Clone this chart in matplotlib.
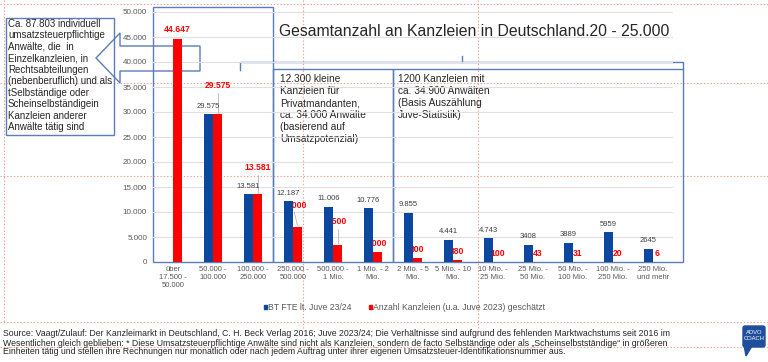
import numpy as np
import matplotlib
matplotlib.use("Agg")
import matplotlib.pyplot as plt
from matplotlib.patches import Rectangle, Polygon, FancyBboxPatch

plt.rcParams['font.family'] = ['Liberation Sans', 'DejaVu Sans']

# ---------------- data ----------------
categories = ["über\n17.500 -\n50.000", "50.000 -\n100.000", "100.000 -\n250.000",
              "250.000 -\n500.000", "500.000 -\n1 Mio.", "1 Mio. - 2\nMio.",
              "2 Mio. - 5\nMio.", "5 Mio. - 10\nMio.", "10 Mio. -\n25 Mio.",
              "25 Mio. -\n50 Mio.", "50 Mio. -\n100 Mio.", "100 Mio. -\n250 Mio.",
              "250 Mio.\nund mehr"]
bt_fte = [0, 29575, 13581, 12187, 11006, 10776, 9855, 4441, 4743, 3408, 3889, 5959, 2645]
bt_fte_labels = ["", "29.575", "13.581", "12.187", "11.006", "10.776", "9.855",
                 "4.441", "4.743", "3408", "3889", "5959", "2645"]
kanzleien = [44647, 29575, 13581, 7000, 3500, 2000, 800, 380, 100, 43, 31, 20, 6]
kanzleien_labels = ["44.647", "29.575", "13.581", "7000", "3500", "2000", "800",
                    "380", "100", "43", "31", "20", "6"]
yticks = [0, 5000, 10000, 15000, 20000, 25000, 30000, 35000, 40000, 45000, 50000]
ytick_labels = ["0", "5.000", "10.000", "15.000", "20.000", "25.000", "30.000",
                "35.000", "40.000", "45.000", "50.000"]
legend_labels = ["BT FTE lt. Juve 23/24", "Anzahl Kanzleien (u.a. Juve 2023) geschätzt"]
title = "Gesamtanzahl an Kanzleien in Deutschland.20 - 25.000"
left_box_lines = ["Ca. 87.803 individuell", "umsatzsteuerpflichtige", "Anwälte, die  in",
                  "Einzelkanzleien, in", "Rechtsabteilungen", "(nebenberuflich) und als",
                  "tSelbständige oder", "Scheinselbständigein", "Kanzleien anderer",
                  "Anwälte tätig sind"]
box2_lines = ["12.300 kleine", "Kanzleien für", "Privatmandanten,", "ca. 34.000 Anwälte",
              "(basierend auf", "Umsatzpotenzial)"]
box3_lines = ["1200 Kanzleien mit", "ca. 34.900 Anwälten", "(Basis Auszählung",
              "Juve-Statistik)"]
footer_lines = [
    "Source: Vaagt/Zulauf: Der Kanzleimarkt in Deutschland, C. H. Beck Verlag 2016; Juve 2023/24; Die Verhältnisse sind aufgrund des fehlenden Marktwachstums seit 2016 im",
    "Wesentlichen gleich geblieben: * Diese Umsatzsteuerpflichtige Anwälte sind nicht als Kanzleien, sondern de facto Selbständige oder als \u201eScheinselbstständige\u201c in größeren",
    "Einheiten tätig und stellen ihre Rechnungen nur monatlich oder nach jedem Auftrag unter ihrer eigenen Umsatzsteuer-Identifikationsnummer aus.",
]

# label layout (centre heights of red labels, data units)
red_label_y = [46600, 35200, 18800, 11400, 8000, 3600, 2600, 2000, 1800, 1800, 1800, 1800, 1800]

# ---------------- styles ----------------
W, H = 768, 362
BLUE = "#0B479E"
RED = "#FF0000"
BOXC = "#5B7DB8"
GUIDE = "#E9A08C"
TXT = "#262626"
TICK = "#595959"

fig = plt.figure(figsize=(W / 100, H / 100), dpi=100)

# overlay axes in pixel coordinates
ov = fig.add_axes([0, 0, 1, 1])
ov.set_xlim(0, W)
ov.set_ylim(H, 0)
ov.axis("off")
ov.set_zorder(0)

# main chart axes
x0, x1, ytop, ybot = 153, 673, 12, 262
ax = fig.add_axes([x0 / W, 1 - ybot / H, (x1 - x0) / W, (ybot - ytop) / H])
ax.set_zorder(1)
ax.patch.set_alpha(0)

n = len(categories)
x = np.arange(n)
bw = 0.225
ax.bar(x - bw / 2, bt_fte, width=bw, color=BLUE, zorder=3)
ax.bar(x + bw / 2, kanzleien, width=bw, color=RED, zorder=3)
ax.set_xlim(-0.5, n - 0.5)
ax.set_ylim(0, 50000)
ax.set_yticks(yticks)
ax.set_yticklabels(ytick_labels)
ax.set_xticks(x)
ax.set_xticklabels(categories, linespacing=1.2)
ax.tick_params(axis="y", length=0, pad=4.3, labelsize=5.8, labelcolor=TICK)
ax.tick_params(axis="x", length=0, pad=3.0, labelsize=5.5, labelcolor=TICK)
for s in ax.spines.values():
    s.set_visible(False)
ax.grid(axis="y", color="#E0E0E0", linewidth=0.8, zorder=0)
ax.set_axisbelow(True)

# blue data labels
for i in range(n):
    if bt_fte_labels[i]:
        ax.annotate(bt_fte_labels[i], (x[i] - bw / 2, bt_fte[i]), xytext=(0, 5.8),
                    textcoords="offset points", ha="center", va="center",
                    fontsize=5.5, color="#404040", zorder=4)

# red data labels (drawn below bars, so bars partially cover some of them)
for i in range(n):
    xr = x[i] + bw / 2
    ax.text(xr, red_label_y[i], kanzleien_labels[i], ha="center", va="center",
            fontsize=6.2, fontweight="bold", color=RED, zorder=2)
# leader lines
for i in [1, 2, 3, 4]:
    xr = x[i] + bw / 2
    top = red_label_y[i] - 1400
    ax.plot([xr - 0.08 if i == 3 else xr, xr], [top, kanzleien[i] + 300],
            color="#A6A6A6", lw=0.5, zorder=2)

# ---------------- guides (dotted) ----------------
gkw = dict(color=GUIDE, lw=0.8, linestyle=(0, (1.2, 1.8)), zorder=0)
for yy in [4, 83, 176, 322, 347]:
    ov.plot([0, W], [yy, yy], **gkw)
for xx, ya, yb in [(4, 0, 322), (303, 0, 330), (478, 0, 330)]:
    ov.plot([xx, xx], [ya, yb], **gkw)

# ---------------- boxes ----------------
bkw = dict(fill=False, edgecolor=BOXC, lw=1.0, zorder=1)
ov.add_patch(Rectangle((6, 18), 108, 117, **bkw))            # left text box
ov.add_patch(Rectangle((153, 7), 120, 255, **bkw))           # box around first 3 categories
ov.add_patch(Rectangle((273, 69), 120, 193, **bkw))          # box 2
ov.add_patch(Rectangle((393, 69), 290, 193, **bkw))          # box 3
# bracket
ov.plot([240, 240, 683, 683], [70, 62, 62, 69], color=BOXC, lw=1.0, zorder=1)
ov.plot([462, 462], [56, 62], color=BOXC, lw=1.0, zorder=1)
# arrow
ov.add_patch(Polygon([(96, 58), (120, 33), (120, 46), (200, 46), (200, 71),
                      (120, 71), (120, 83)], closed=True, **bkw))

# ---------------- texts ----------------
ov.text(279, 31, title, fontsize=11.3, color=TXT, va="center", ha="left")
for k, line in enumerate(left_box_lines):
    ov.text(8, 24 + k * 11.45, line, fontsize=7.0, color=TXT, va="center", ha="left")
for k, line in enumerate(box2_lines):
    ov.text(280, 79 + k * 12, line, fontsize=7.3, color=TXT, va="center", ha="left")
for k, line in enumerate(box3_lines):
    ov.text(398, 79 + k * 12, line, fontsize=7.3, color=TXT, va="center", ha="left")

# legend
narrow = ['Liberation Sans Narrow', 'Liberation Sans', 'DejaVu Sans']
ov.add_patch(Rectangle((263.5, 305), 3.5, 3.5, color=BLUE, zorder=2))
ov.text(268, 307, legend_labels[0], fontsize=6.2, color=TICK, va="center", family=narrow)
ov.add_patch(Rectangle((368.5, 305), 3.5, 3.5, color=RED, zorder=2))
ov.text(373, 307, legend_labels[1], fontsize=6.2, color=TICK, va="center", family=narrow)

# footer
for k, line in enumerate(footer_lines):
    ov.text(3, 334 + k * 9, line, fontsize=6.35, color=TXT, va="center", ha="left",
            family=narrow)

# logo
ov.add_patch(FancyBboxPatch((743, 326), 22, 21, boxstyle="round,pad=0,rounding_size=2",
                            color="#1F4F9A", zorder=2))
ov.add_patch(Polygon([(744, 345), (746, 356), (752, 346)], closed=True,
                     color="#1F4F9A", zorder=2))
ov.text(754, 332, "ADVO", fontsize=4.2, color="white", ha="center", va="center",
        family=narrow, zorder=3)
ov.text(754, 339, "COACH", fontsize=4.2, color="white", ha="center", va="center",
        family=narrow, zorder=3)

fig.savefig("out.png", dpi=100)
